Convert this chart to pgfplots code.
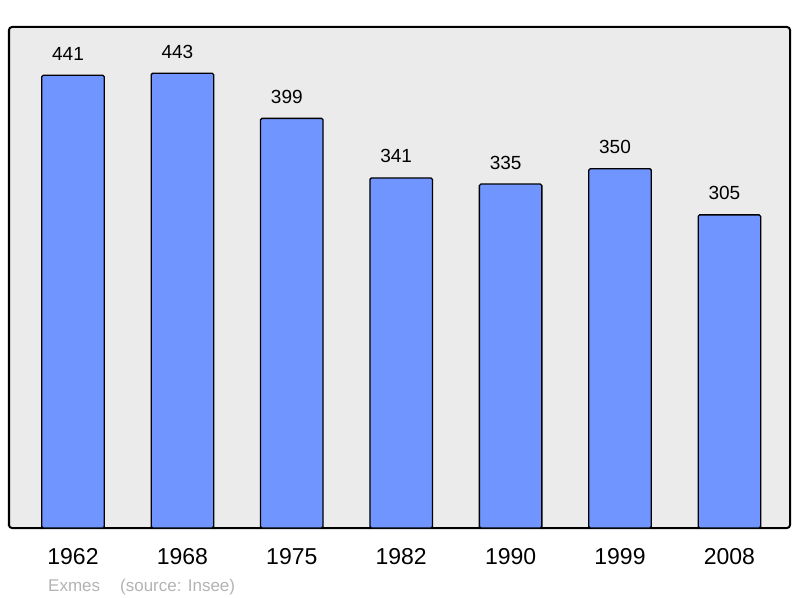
\documentclass[border=0pt]{standalone}
\usepackage{pgfplots}
\pgfplotsset{compat=1.18}
\usepackage{fontspec}
\setmainfont{Liberation Sans}
\definecolor{barblue}{HTML}{7095FF}
\definecolor{panel}{HTML}{EBEBEB}
\definecolor{srcgray}{HTML}{B3B3B3}
\begin{document}
\begin{tikzpicture}
\useasboundingbox (-9bp,-70bp) rectangle (791bp,528bp);
\begin{axis}[
  scale only axis,
  width=781bp, height=501bp,
  at={(0,0)}, anchor=south west,
  xmin=-0.585, xmax=6.554,
  ymin=0, ymax=488,
  axis background/.style={fill=panel},
  axis line style={line width=2bp, rounded corners=3bp},
  ytick=\empty,
  xtick=data,
  xticklabels={1962,1968,1975,1982,1990,1999,2008},
  major tick length=0pt,
  xticklabel style={font=\fontsize{23bp}{26bp}\selectfont, anchor=base, yshift=-36bp},
  /pgf/number format/assume math mode=true,
  ybar, bar width=62.5bp,
  nodes near coords,
  every node near coord/.append style={font=\fontsize{19bp}{22bp}\selectfont, anchor=base, inner sep=0pt, xshift=-5bp, yshift=15bp},
  clip=false,
]
\addplot[draw=black, line width=1.3bp, fill=barblue, rounded corners=1.5bp]
  coordinates {(0,441) (1,443) (2,399) (3,341) (4,335) (5,350) (6,305)};
\end{axis}
\node[anchor=base west, inner sep=0pt, text=srcgray, font=\fontsize{17bp}{20bp}\selectfont]
  at (39bp,-63bp) {Exmes\hspace{20bp}(source: Insee)};
\end{tikzpicture}
\end{document}
